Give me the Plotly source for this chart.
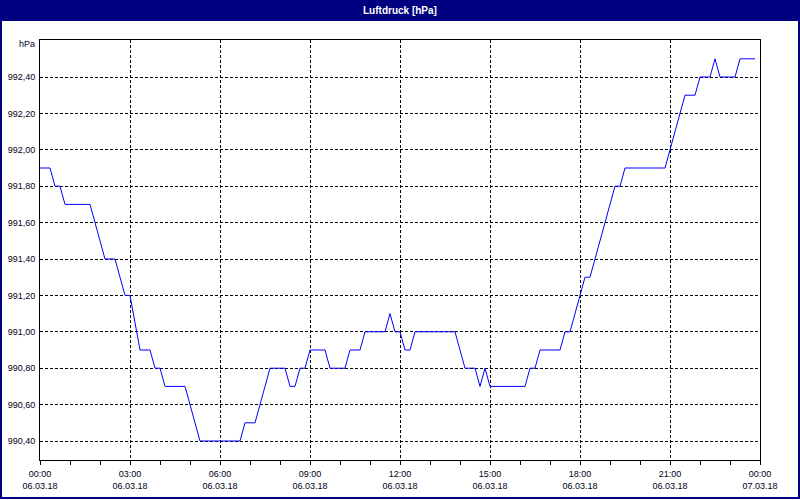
import plotly.graph_objects as go

# ---- data ----
times = ["00:00", "00:20", "00:30", "00:40", "00:50", "01:40", "01:50", "02:00", "02:10", "02:30",
         "02:40", "02:50", "03:00", "03:20", "03:40", "03:50", "04:00", "04:10", "04:50", "05:00",
         "05:10", "05:20", "06:40", "06:50", "07:10", "07:20", "07:30", "07:40", "08:10", "08:20",
         "08:30", "08:40", "08:50", "09:00", "09:30", "09:40", "10:10", "10:20", "10:40", "10:50",
         "11:30", "11:40", "11:50", "12:00", "12:10", "12:20", "12:30", "13:50", "14:00", "14:10",
         "14:30", "14:40", "14:50", "15:00", "16:10", "16:20", "16:30", "16:40", "17:20", "17:30",
         "17:40", "17:50", "18:00", "18:10", "18:20", "18:30", "18:40", "18:50", "19:00", "19:10",
         "19:20", "19:30", "20:50", "21:00", "21:10", "21:20", "21:30", "21:50", "22:00", "22:20",
         "22:30", "22:40", "23:10", "23:20", "23:50"]
pressure = [991.9, 991.9, 991.8, 991.8, 991.7, 991.7, 991.6, 991.5, 991.4, 991.4,
            991.3, 991.2, 991.2, 990.9, 990.9, 990.8, 990.8, 990.7, 990.7, 990.6,
            990.5, 990.4, 990.4, 990.5, 990.5, 990.6, 990.7, 990.8, 990.8, 990.7,
            990.7, 990.8, 990.8, 990.9, 990.9, 990.8, 990.8, 990.9, 990.9, 991.0,
            991.0, 991.1, 991.0, 991.0, 990.9, 990.9, 991.0, 991.0, 990.9, 990.8,
            990.8, 990.7, 990.8, 990.7, 990.7, 990.8, 990.8, 990.9, 990.9, 991.0,
            991.0, 991.1, 991.2, 991.3, 991.3, 991.4, 991.5, 991.6, 991.7, 991.8,
            991.8, 991.9, 991.9, 992.0, 992.1, 992.2, 992.3, 992.3, 992.4, 992.4,
            992.5, 992.4, 992.4, 992.5, 992.5]
day = "2018-03-06"

x_tick_vals = ["2018-03-06 00:00", "2018-03-06 03:00", "2018-03-06 06:00", "2018-03-06 09:00",
               "2018-03-06 12:00", "2018-03-06 15:00", "2018-03-06 18:00", "2018-03-06 21:00",
               "2018-03-07 00:00"]
x_tick_times = ["00:00", "03:00", "06:00", "09:00", "12:00", "15:00", "18:00", "21:00", "00:00"]
x_tick_dates = ["06.03.18", "06.03.18", "06.03.18", "06.03.18", "06.03.18",
                "06.03.18", "06.03.18", "06.03.18", "07.03.18"]
y_tick_vals = [990.4, 990.6, 990.8, 991.0, 991.2, 991.4, 991.6, 991.8, 992.0, 992.2, 992.4]
y_tick_text = ["990,40", "990,60", "990,80", "991,00", "991,20", "991,40",
               "991,60", "991,80", "992,00", "992,20", "992,40"]
title_text = "Luftdruck [hPa]"
unit_text = "hPa"

xs = [f"{day} {t}" for t in times]

FONT = "Liberation Sans"
TXT = "#000020"
NAVY = "#000080"
W, H = 800, 500
L, R, T, B = 40, 40, 40, 40
pw, ph = W - L - R, H - T - B


def px(xp):
    return (xp - L) / pw


def py(yp):
    return (H - B - yp) / ph


fig = go.Figure()
fig.add_trace(go.Scatter(x=xs, y=pressure, mode="lines",
                         line=dict(color="#0000ff", width=1),
                         hoverinfo="skip", showlegend=False))
fig.add_trace(go.Scatter(x=xs, y=pressure, mode="lines", xaxis="x2",
                         line=dict(color="rgba(0,0,0,0)", width=0),
                         hoverinfo="skip", showlegend=False))

xrange = ["2018-03-06 00:00", "2018-03-07 00:00"]
yrange = [990.2956, 992.6033]

fig.update_layout(
    template="none",
    width=W, height=H,
    margin=dict(l=L, r=R, t=T, b=B, autoexpand=False),
    paper_bgcolor="white", plot_bgcolor="white",
    font=dict(family=FONT, size=9, color=TXT),
    xaxis=dict(
        type="date", range=xrange, automargin=False,
        tickmode="array", tickvals=x_tick_vals, ticktext=x_tick_times,
        ticks="outside", ticklen=4, tickcolor="black", tickwidth=1,
        showgrid=True, gridcolor="black", gridwidth=1, griddash="3px,2px",
        showline=True, linecolor="black", linewidth=1, mirror=True,
        zeroline=False, ticklabelstandoff=1,
        minor=dict(tickmode="linear", tick0="2018-03-06 00:00", dtick=3600000,
                   ticks="outside", ticklen=4, tickcolor="black", showgrid=False),
    ),
    xaxis2=dict(
        type="date", range=xrange, overlaying="x", anchor="y", side="bottom",
        automargin=False,
        tickmode="array", tickvals=x_tick_vals, ticktext=x_tick_dates,
        ticks="", showgrid=False, showline=False, zeroline=False,
        ticklabelstandoff=19,
    ),
    yaxis=dict(
        range=yrange, automargin=False,
        tickmode="array", tickvals=y_tick_vals, ticktext=y_tick_text,
        ticks="", showgrid=True, gridcolor="black", gridwidth=1, griddash="3px,2px",
        showline=True, linecolor="black", linewidth=1, mirror=True,
        zeroline=False, ticklabelstandoff=2,
    ),
    shapes=[
        dict(type="rect", xref="paper", yref="paper",
             x0=px(0), x1=px(800), y0=py(20), y1=py(0),
             fillcolor=NAVY, line=dict(width=0), layer="above"),
        dict(type="rect", xref="paper", yref="paper",
             x0=px(1), x1=px(799), y0=py(498), y1=py(20),
             fillcolor="rgba(0,0,0,0)", line=dict(color=NAVY, width=2), layer="above"),
    ],
    annotations=[
        dict(text=f"<b>{title_text}</b>", xref="paper", yref="paper",
             x=0.5, y=py(10), xanchor="center", yanchor="middle", showarrow=False,
             font=dict(family=FONT, size=10, color="white")),
        dict(text=unit_text, xref="paper", yref="paper",
             x=px(37), y=py(44), xanchor="right", yanchor="middle", showarrow=False,
             font=dict(family=FONT, size=9, color=TXT)),
    ],
)

fig.write_html("out.html", config={"displayModeBar": False},
               post_script="document.body.style.margin='0';document.body.style.overflow='hidden';")
